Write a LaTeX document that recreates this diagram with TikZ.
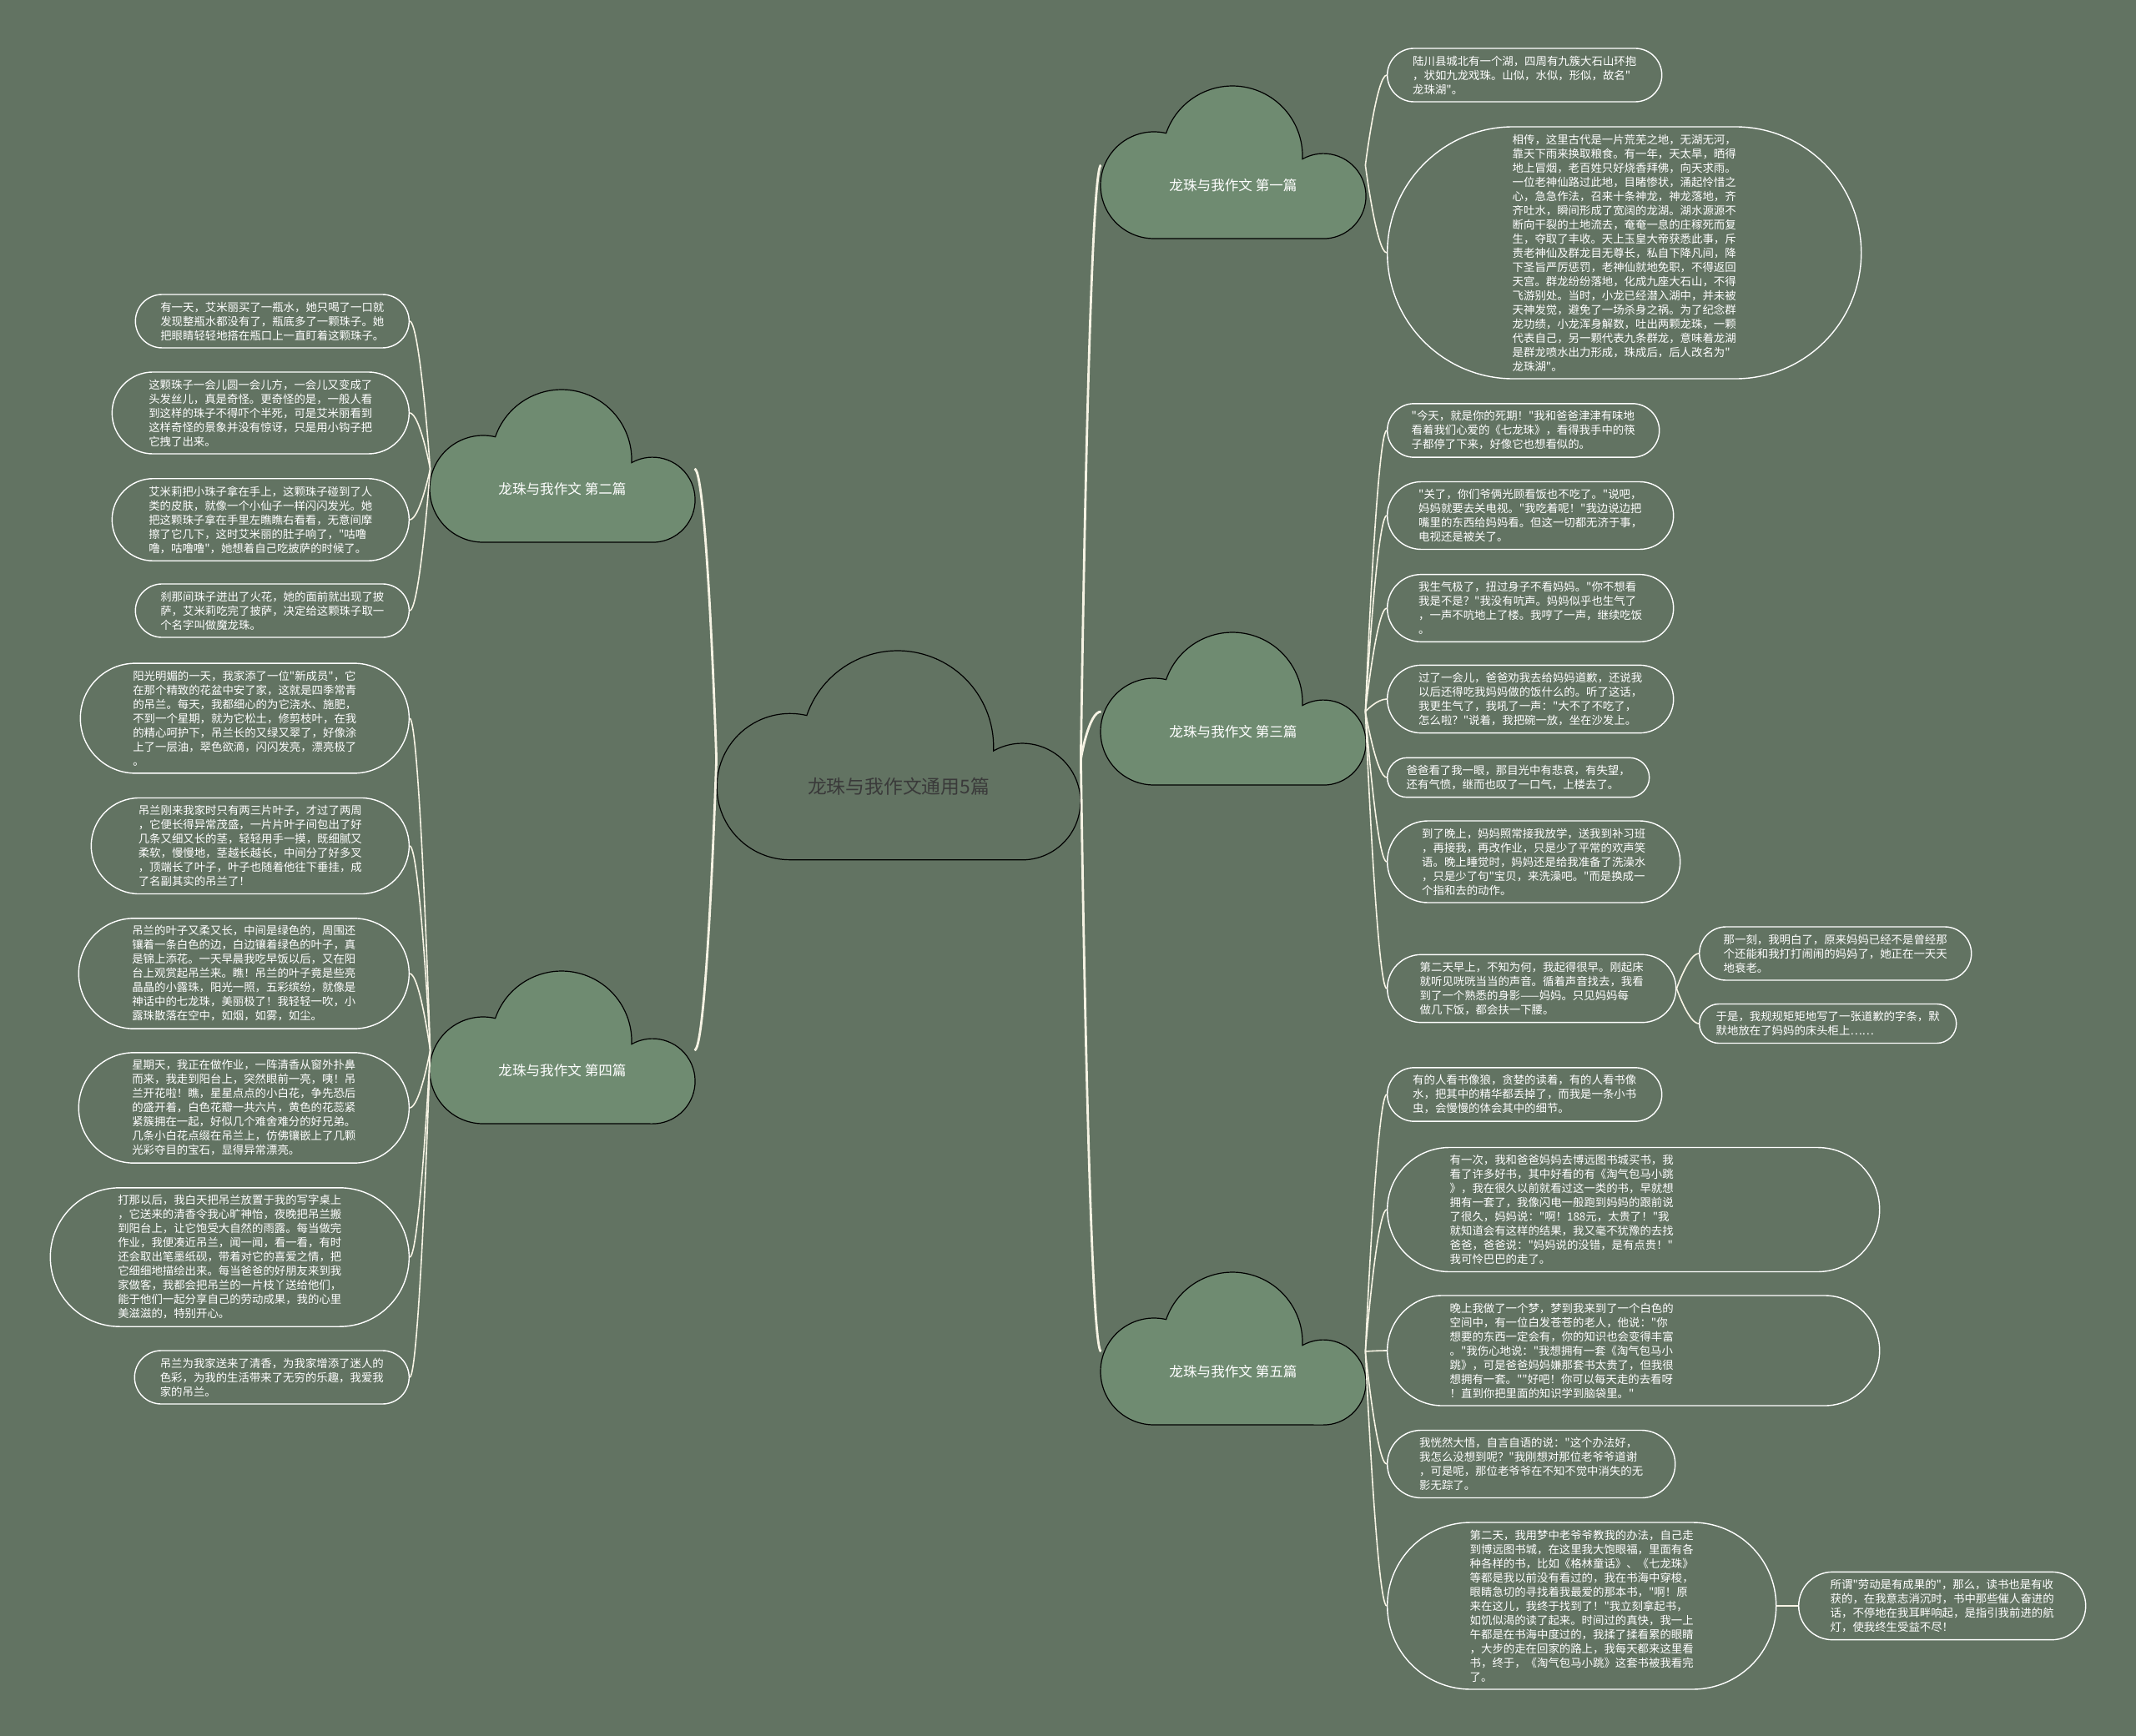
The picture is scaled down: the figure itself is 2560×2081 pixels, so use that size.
\documentclass[tikz,border=0pt]{standalone}
\usepackage{fontspec}
\setmainfont{Noto Sans CJK SC}[Ligatures=TeXOff]
\usetikzlibrary{shapes.misc, backgrounds, calc}
\definecolor{paper}{RGB}{98,115,98}
\definecolor{puff}{RGB}{111,139,113}
\definecolor{cream}{RGB}{246,243,228}
\definecolor{ink}{RGB}{58,58,58}

% three-lobed cloud drawn behind a named node
\newcommand{\cloudat}[3]{%
  \begin{scope}[on background layer, shift={(#1.center)}, scale=#2]
    \path[#3] (-95,-64) arc[start angle=270, end angle=76.8, radius=64]
      arc[start angle=161, end angle=-2.5, radius=84]
      arc[start angle=119.5, end angle=-90, radius=51] -- cycle;
  \end{scope}}

\begin{document}
\begin{tikzpicture}[x=0.5pt, y=0.5pt,
    hub/.style={minimum width=218pt, inner sep=0pt, text=ink, font=\fontsize{11.4}{13}\selectfont},
    topic/.style={minimum width=158pt, inner sep=0pt, text=white, font=\fontsize{8.3}{10}\selectfont},
    leaf/.style={rounded rectangle, draw=white, line width=0.7pt, text=white, align=left, inner xsep=1pt, inner ysep=4.4pt, font=\fontsize{6.7}{8.5}\selectfont},
    rleaf/.style={leaf, anchor=west},
    lleaf/.style={leaf, anchor=east},
    trunk/.style={draw=cream, line width=1.4pt},
    twig/.style={draw=cream, line width=0.8pt}
  ]
  \begin{scope}[on background layer]
    \fill[paper] (0,0) rectangle (2560,-2081);
  \end{scope}
  \useasboundingbox (0,0) rectangle (2560,-2081);

  % root and articles
  \node[hub] (main) at (1077,-943) {龙珠与我作文通用5篇};
  \node[topic] (first) at (1478,-222) {龙珠与我作文 第一篇};
  \node[topic] (third) at (1478,-877) {龙珠与我作文 第三篇};
  \node[topic] (fifth) at (1478,-1644) {龙珠与我作文 第五篇};
  \node[topic] (second) at (674,-586) {龙珠与我作文 第二篇};
  \node[topic] (fourth) at (674,-1283) {龙珠与我作文 第四篇};

  \cloudat{main}{1.37}{fill=paper, draw=black, line width=0.6pt}
  \cloudat{first}{1}{fill=puff, draw=black, line width=0.6pt}
  \cloudat{third}{1}{fill=puff, draw=black, line width=0.6pt}
  \cloudat{fifth}{1}{fill=puff, draw=black, line width=0.6pt}
  \cloudat{second}{1}{fill=puff, draw=black, line width=0.6pt}
  \cloudat{fourth}{1}{fill=puff, draw=black, line width=0.6pt}

  % first
  \node[rleaf, minimum width=166.5pt] (first1) at (1662,-90) {陆川县城北有一个湖，四周有九簇大石山环抱\\，状如九龙戏珠。山似，水似，形似，故名"\\龙珠湖"。};
  \node[rleaf, minimum width=286pt] (first2) at (1662,-303) {相传，这里古代是一片荒芜之地，无湖无河，\\靠天下雨来换取粮食。有一年，天太旱，晒得\\地上冒烟，老百姓只好烧香拜佛，向天求雨。\\一位老神仙路过此地，目睹惨状，涌起怜惜之\\心，急急作法，召来十条神龙，神龙落地，齐\\齐吐水，瞬间形成了宽阔的龙湖。湖水源源不\\断向干裂的土地流去，奄奄一息的庄稼死而复\\生，夺取了丰收。天上玉皇大帝获悉此事，斥\\责老神仙及群龙目无尊长，私自下降凡间，降\\下圣旨严厉惩罚，老神仙就地免职，不得返回\\天宫。群龙纷纷落地，化成九座大石山，不得\\飞游别处。当时，小龙已经潜入湖中，并未被\\天神发觉，避免了一场杀身之祸。为了纪念群\\龙功绩，小龙浑身解数，吐出两颗龙珠，一颗\\代表自己，另一颗代表九条群龙，意味着龙湖\\是群龙喷水出力形成，珠成后，后人改名为"\\龙珠湖"。};

  % third
  \node[rleaf, minimum width=165pt] (third1) at (1662,-516) {"今天，就是你的死期！"我和爸爸津津有味地\\看着我们心爱的《七龙珠》，看得我手中的筷\\子都停了下来，好像它也想看似的。};
  \node[rleaf, minimum width=173.5pt] (third2) at (1662,-618) {"关了，你们爷俩光顾看饭也不吃了。"说吧，\\妈妈就要去关电视。"我吃着呢！"我边说边把\\嘴里的东西给妈妈看。但这一切都无济于事，\\电视还是被关了。};
  \node[rleaf, minimum width=173.5pt] (third3) at (1662,-729) {我生气极了，扭过身子不看妈妈。"你不想看\\我是不是？"我没有吭声。妈妈似乎也生气了\\，一声不吭地上了楼。我哼了一声，继续吃饭\\。};
  \node[rleaf, minimum width=173.5pt] (third4) at (1662,-838) {过了一会儿，爸爸劝我去给妈妈道歉，还说我\\以后还得吃我妈妈做的饭什么的。听了这话，\\我更生气了，我吼了一声："大不了不吃了，\\怎么啦？"说着，我把碗一放，坐在沙发上。};
  \node[rleaf, minimum width=159pt] (third5) at (1662,-932) {爸爸看了我一眼，那目光中有悲哀，有失望，\\还有气愤，继而也叹了一口气，上楼去了。};
  \node[rleaf, minimum width=177.5pt] (third6) at (1662,-1033) {到了晚上，妈妈照常接我放学，送我到补习班\\，再接我，再改作业，只是少了平常的欢声笑\\语。晚上睡觉时，妈妈还是给我准备了洗澡水\\，只是少了句"宝贝，来洗澡吧。"而是换成一\\个指和去的动作。};
  \node[rleaf, minimum width=175pt] (third7) at (1662,-1185) {第二天早上，不知为何，我起得很早。刚起床\\就听见咣咣当当的声音。循着声音找去，我看\\到了一个熟悉的身影——妈妈。只见妈妈每\\做几下饭，都会扶一下腰。};
  \node[rleaf, minimum width=165pt] (third7a) at (2036,-1143) {那一刻，我明白了，原来妈妈已经不是曾经那\\个还能和我打打闹闹的妈妈了，她正在一天天\\地衰老。};
  \node[rleaf, minimum width=156pt] (third7b) at (2036,-1227) {于是，我规规矩矩地写了一张道歉的字条，默\\默地放在了妈妈的床头柜上……};

  % fifth
  \node[rleaf, minimum width=166.5pt] (fifth1) at (1662,-1312) {有的人看书像狼，贪婪的读着，有的人看书像\\水，把其中的精华都丢掉了，而我是一条小书\\虫，会慢慢的体会其中的细节。};
  \node[rleaf, minimum width=297pt, text width=220pt] (fifth2) at (1662,-1450) {有一次，我和爸爸妈妈去博远图书城买书，我\\看了许多好书，其中好看的有《淘气包马小跳\\》，我在很久以前就看过这一类的书，早就想\\拥有一套了，我像闪电一般跑到妈妈的跟前说\\了很久，妈妈说："啊！188元，太贵了！"我\\就知道会有这样的结果，我又毫不犹豫的去找\\爸爸，爸爸说："妈妈说的没错，是有点贵！"\\我可怜巴巴的走了。};
  \node[rleaf, minimum width=297pt, text width=220pt] (fifth3) at (1662,-1619) {晚上我做了一个梦，梦到我来到了一个白色的\\空间中，有一位白发苍苍的老人，他说："你\\想要的东西一定会有，你的知识也会变得丰富\\。"我伤心地说："我想拥有一套《淘气包马小\\跳》，可是爸爸妈妈嫌那套书太贵了，但我很\\想拥有一套。""好吧！你可以每天走的去看呀\\！直到你把里面的知识学到脑袋里。"};
  \node[rleaf, minimum width=174.5pt] (fifth4) at (1662,-1755) {我恍然大悟，自言自语的说："这个办法好，\\我怎么没想到呢？"我刚想对那位老爷爷道谢\\，可是呢，那位老爷爷在不知不觉中消失的无\\影无踪了。};
  \node[rleaf, minimum width=235pt] (fifth5) at (1662,-1925) {第二天，我用梦中老爷爷教我的办法，自己走\\到博远图书城，在这里我大饱眼福，里面有各\\种各样的书，比如《格林童话》、《七龙珠》\\等都是我以前没有看过的，我在书海中穿梭，\\眼睛急切的寻找着我最爱的那本书，"啊！原\\来在这儿，我终于找到了！"我立刻拿起书，\\如饥似渴的读了起来。时间过的真快，我一上\\午都是在书海中度过的，我揉了揉看累的眼睛\\，大步的走在回家的路上，我每天都来这里看\\书，终于，《淘气包马小跳》这套书被我看完\\了。};
  \node[rleaf, minimum width=174pt] (fifth5a) at (2155,-1925) {所谓"劳动是有成果的"，那么，读书也是有收\\获的，在我意志消沉时，书中那些催人奋进的\\话，不停地在我耳畔响起，是指引我前进的航\\灯，使我终生受益不尽！};

  % second
  \node[lleaf, minimum width=166pt] (second1) at (491,-385) {有一天，艾米丽买了一瓶水，她只喝了一口就\\发现整瓶水都没有了，瓶底多了一颗珠子。她\\把眼睛轻轻地搭在瓶口上一直盯着这颗珠子。};
  \node[lleaf, minimum width=180pt] (second2) at (491,-495) {这颗珠子一会儿圆一会儿方，一会儿又变成了\\头发丝儿，真是奇怪。更奇怪的是，一般人看\\到这样的珠子不得吓个半死，可是艾米丽看到\\这样奇怪的景象并没有惊讶，只是用小钩子把\\它拽了出来。};
  \node[lleaf, minimum width=180pt] (second3) at (491,-623) {艾米莉把小珠子拿在手上，这颗珠子碰到了人\\类的皮肤，就像一个小仙子一样闪闪发光。她\\把这颗珠子拿在手里左瞧瞧右看看，无意间摩\\擦了它几下，这时艾米丽的肚子响了，"咕噜\\噜，咕噜噜"，她想着自己吃披萨的时候了。};
  \node[lleaf, minimum width=166pt] (second4) at (491,-732) {刹那间珠子迸出了火花，她的面前就出现了披\\萨，艾米莉吃完了披萨，决定给这颗珠子取一\\个名字叫做魔龙珠。};

  % fourth
  \node[lleaf, minimum width=199pt] (fourth1) at (491,-861) {阳光明媚的一天，我家添了一位"新成员"，它\\在那个精致的花盆中安了家，这就是四季常青\\的吊兰。每天，我都细心的为它浇水、施肥，\\不到一个星期，就为它松土，修剪枝叶，在我\\的精心呵护下，吊兰长的又绿又翠了，好像涂\\上了一层油，翠色欲滴，闪闪发亮，漂亮极了\\。};
  \node[lleaf, minimum width=192.5pt] (fourth2) at (491,-1014) {吊兰刚来我家时只有两三片叶子，才过了两周\\，它便长得异常茂盛，一片片叶子间包出了好\\几条又细又长的茎，轻轻用手一摸，既细腻又\\柔软，慢慢地，茎越长越长，中间分了好多叉\\，顶端长了叶子，叶子也随着他往下垂挂，成\\了名副其实的吊兰了！};
  \node[lleaf, minimum width=200pt] (fourth3) at (491,-1167) {吊兰的叶子又柔又长，中间是绿色的，周围还\\镶着一条白色的边，白边镶着绿色的叶子，真\\是锦上添花。一天早晨我吃早饭以后，又在阳\\台上观赏起吊兰来。瞧！吊兰的叶子竟是些亮\\晶晶的小露珠，阳光一照，五彩缤纷，就像是\\神话中的七龙珠，美丽极了！我轻轻一吹，小\\露珠散落在空中，如烟，如雾，如尘。};
  \node[lleaf, minimum width=200pt] (fourth4) at (491,-1328) {星期天，我正在做作业，一阵清香从窗外扑鼻\\而来，我走到阳台上，突然眼前一亮，咦！吊\\兰开花啦！瞧，星星点点的小白花，争先恐后\\的盛开着，白色花瓣一共六片，黄色的花蕊紧\\紧簇拥在一起，好似几个难舍难分的好兄弟。\\几条小白花点缀在吊兰上，仿佛镶嵌上了几颗\\光彩夺目的宝石，显得异常漂亮。};
  \node[lleaf, minimum width=217pt] (fourth5) at (491,-1507) {打那以后，我白天把吊兰放置于我的写字桌上\\，它送来的清香令我心旷神怡，夜晚把吊兰搬\\到阳台上，让它饱受大自然的雨露。每当做完\\作业，我便凑近吊兰，闻一闻，看一看，有时\\还会取出笔墨纸砚，带着对它的喜爱之情，把\\它细细地描绘出来。每当爸爸的好朋友来到我\\家做客，我都会把吊兰的一片枝丫送给他们，\\能于他们一起分享自己的劳动成果，我的心里\\美滋滋的，特别开心。};
  \node[lleaf, minimum width=166.5pt] (fourth6) at (491,-1651) {吊兰为我家送来了清香，为我家增添了迷人的\\色彩，为我的生活带来了无穷的乐趣，我爱我\\家的吊兰。};

  % connectors
  \foreach \t in {first,third,fifth}
    \draw[trunk] ([yshift=16.5pt]main.east) .. controls +(0,0) and +(-15,0) .. ([yshift=12pt]\t.west);
  \foreach \t in {second,fourth}
    \draw[trunk] ([yshift=16.5pt]main.west) .. controls +(0,0) and +(15,0) .. ([yshift=12pt]\t.east);

  \foreach \i in {1,2}
    \draw[twig] ([yshift=12pt]first.east) .. controls +(0,0) and +(-12,0) .. (first\i.west);
  \foreach \i in {1,...,7}
    \draw[twig] ([yshift=12pt]third.east) .. controls +(0,0) and +(-12,0) .. (third\i.west);
  \foreach \i in {1,...,5}
    \draw[twig] ([yshift=12pt]fifth.east) .. controls +(0,0) and +(-12,0) .. (fifth\i.west);
  \foreach \i in {1,...,4}
    \draw[twig] ([yshift=12pt]second.west) .. controls +(0,0) and +(12,0) .. (second\i.east);
  \foreach \i in {1,...,6}
    \draw[twig] ([yshift=12pt]fourth.west) .. controls +(0,0) and +(12,0) .. (fourth\i.east);

  \draw[twig] (third7.east) .. controls +(0,0) and +(-12,0) .. (third7a.west);
  \draw[twig] (third7.east) .. controls +(0,0) and +(-12,0) .. (third7b.west);
  \draw[twig] (fifth5.east) -- (fifth5a.west);
\end{tikzpicture}
\end{document}
